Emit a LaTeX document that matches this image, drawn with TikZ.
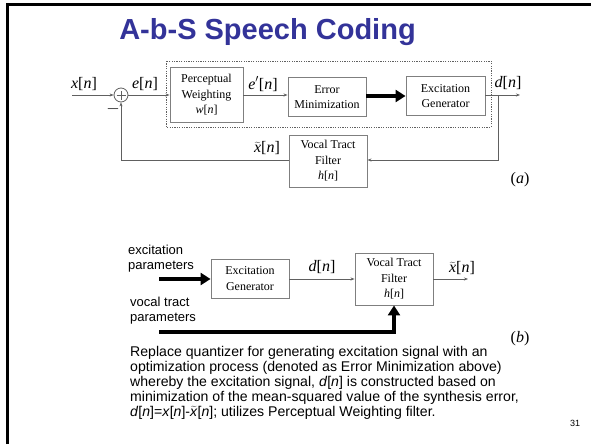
\documentclass[tikz,border=0pt]{standalone}
\usepackage{fontspec}
\setmainfont{Liberation Serif}
\newfontfamily\arial{Liberation Sans}
\usetikzlibrary{arrows.meta}
\definecolor{titleblue}{HTML}{333399}
\definecolor{boxgray}{HTML}{7F7F7F}
\definecolor{linegray}{HTML}{606060}
\newcommand{\sig}[1]{\textit{#1}[\textit{n}]}
\newcommand{\tx}{$\widetilde{\mbox{\textit{x}}}$}
\newcommand{\sigt}{\tx[\textit{n}]}
\begin{document}
\begin{tikzpicture}[x=1pt,y=-1pt,
  blk/.style={draw=boxgray, line width=0.9pt, align=center, inner sep=1pt,
    font=\fontsize{12}{15.5}\selectfont},
  lbl/.style={font=\fontsize{16}{18}\selectfont, inner sep=0pt},
  wire/.style={draw=linegray, line width=0.8pt, -{Stealth[length=4pt,width=3pt]}},
  thick arrow/.style={draw=black, line width=3.5pt, -{Triangle[length=10pt,width=12pt]}},
  sans/.style={font=\arial\fontsize{13}{15}\selectfont, inner sep=0pt, align=left}]
\useasboundingbox (0,0) rectangle (591,444);
\fill[white] (0,0) rectangle (591,444);
% frame
\draw[line width=3pt] (7.5,444) -- (7.5,4.5) -- (591,4.5);
% title
\node[font=\arial\bfseries\fontsize{29}{32}\selectfont, text=titleblue] (title) at (267.5,32.5) {A-b-S Speech Coding};

% ---- (a) ----
\node[draw=linegray, line width=0.8pt, circle, minimum size=14pt, inner sep=0pt] (sum) at (121,95) {};
\draw[linegray, line width=0.8pt] ([xshift=-4.5pt]sum.center) -- ([xshift=4.5pt]sum.center)
  ([yshift=-4.5pt]sum.center) -- ([yshift=4.5pt]sum.center);
\coordinate (xin) at (72,95);
\node[blk, minimum width=73pt, minimum height=55pt] (pw) at (206.5,95) {Perceptual\\Weighting\\\sig{w}};
\node[blk, minimum width=78pt, minimum height=39pt] (em) at (327,97) {Error\\Minimization};
\node[blk, minimum width=79pt, minimum height=39pt] (eg) at (445.5,96) {Excitation\\Generator};
\node[blk, minimum width=78pt, minimum height=52pt] (vt) at (328,161) {Vocal Tract\\Filter\\\sig{h}};
\coordinate (dout) at (520,95);
\coordinate (br) at (498,95);
\coordinate (fb) at (498,160);
\coordinate (fbl) at (121,160);

\draw[linegray, line width=0.6pt, dash pattern=on 1.2pt off 1.2pt] (166,61) rectangle (491,127);

\draw[wire] (xin) -- (sum.west);
\draw[wire] (sum.east) -- (pw.west);
\draw[wire] (pw.east) -- (pw.east -| em.west);
\draw[thick arrow] (em.east |- 0,96) -- (eg.west |- 0,96);
\draw[wire] (eg.east |- dout) -- (dout);
\draw[wire] (br) -- (fb) -- (fb -| vt.east);
\draw[wire] (vt.west |- fbl) -- (fbl) -- (sum.south);

\node[lbl] (lx) at (84,84) {\sig{x}};
\node[lbl] (le) at (145,84) {\sig{e}};
\node[lbl] (lep) at (263,84) {\textit{e}$'$[\textit{n}]};
\node[lbl] (ld) at (508,83) {\sig{d}};
\node[lbl] (lxt) at (267,148) {\sigt};
\node[lbl, font=\fontsize{18}{18}\selectfont] (minus) at (113,109) {$-$};
\node[lbl] (la) at (520,180) {(\textit{a})};

% ---- (b) ----
\node[blk, minimum width=78pt, minimum height=39pt] (eg2) at (250,278.5) {Excitation\\Generator};
\node[blk, minimum width=78pt, minimum height=52pt] (vt2) at (394,279) {Vocal Tract\\Filter\\\sig{h}};
\coordinate (ein) at (159,279);
\coordinate (vin) at (159,332);
\coordinate (xout) at (468,279);
\draw[thick arrow] (ein) -- (eg2.west |- ein);
\draw[wire] (eg2.east |- ein) -- (vt2.west |- ein);
\draw[wire] (vt2.east |- xout) -- (xout);
\draw[thick arrow] (vin) -| (vt2.south);

\node[sans, anchor=west] (ep) at (128,258.5) {excitation\\parameters};
\node[sans, anchor=west] (vp) at (130,311) {vocal tract\\parameters};
\node[lbl] (ld2) at (322,267) {\sig{d}};
\node[lbl] (lxt2) at (462,268) {\sigt};
\node[lbl] (lb) at (520,339) {(\textit{b})};

\node[sans, font=\arial\fontsize{14.1}{15}\selectfont, anchor=north west] (para) at (130,346.5) {Replace quantizer for generating excitation signal with an\\
optimization process (denoted as Error Minimization above)\\
whereby the excitation signal, \textit{d}[\textit{n}] is constructed based on\\
minimization of the mean-squared value of the synthesis error,\\
\textit{d}[\textit{n}]=\textit{x}[\textit{n}]-\tx[\textit{n}]; utilizes Perceptual Weighting filter.};
\node[font=\arial\fontsize{9}{10}\selectfont, inner sep=0pt] (pg) at (575,423) {31};
\end{tikzpicture}
\end{document}
